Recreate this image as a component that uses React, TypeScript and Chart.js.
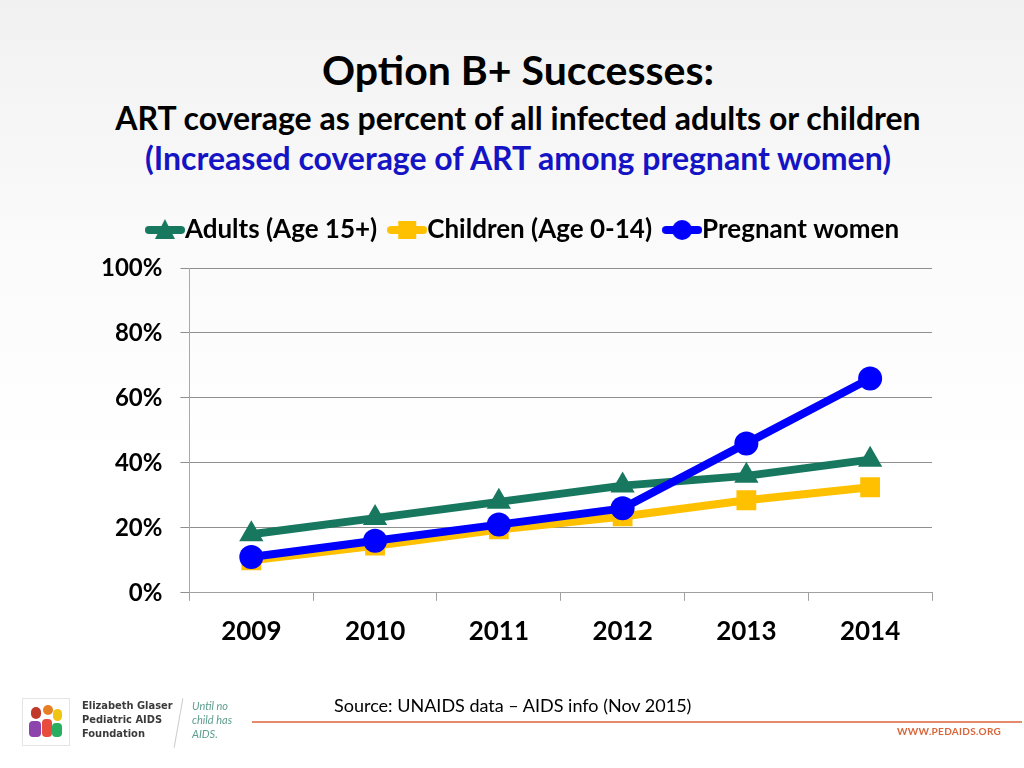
import React, { useEffect, useRef } from "react";
import { Chart, registerables } from "chart.js";

Chart.register(...registerables);

const years = ["2009", "2010", "2011", "2012", "2013", "2014"];
const adults = [18, 23, 28, 33, 36, 41];
const children = [10, 14.5, 19.5, 23.5, 28.5, 32.5];
const pregnant = [11, 16, 21, 26, 46, 66];
const yTicks = [0, 20, 40, 60, 80, 100];

const GREEN = "#17785f";
const YELLOW = "#ffc000";
const BLUE = "#0000ff";
const FONT = "Lato, 'Open Sans', sans-serif";

function legendIcon(color: string, shape: string): HTMLCanvasElement {
  const c = document.createElement("canvas");
  c.width = 40;
  c.height = 26;
  const ctx = c.getContext("2d")!;
  ctx.strokeStyle = color;
  ctx.lineWidth = 8;
  ctx.lineCap = "round";
  ctx.beginPath();
  ctx.moveTo(4, 13);
  ctx.lineTo(36, 13);
  ctx.stroke();
  ctx.fillStyle = color;
  ctx.beginPath();
  if (shape === "triangle") {
    ctx.moveTo(20, 2);
    ctx.lineTo(30, 22);
    ctx.lineTo(10, 22);
    ctx.closePath();
  } else if (shape === "rect") {
    ctx.rect(11, 4, 18, 18);
  } else {
    ctx.arc(20, 13, 10, 0, Math.PI * 2);
  }
  ctx.fill();
  return c;
}

const legendShift = {
  id: "legendShift",
  afterLayout(chart: any) {
    const l = chart.legend;
    if (!l) return;
    const dx = 21;
    const dy = -15;
    l.left += dx;
    l.right += dx;
    l.top += dy;
    l.bottom += dy;
  },
};

export default function App() {
  const ref = useRef<HTMLCanvasElement>(null);
  useEffect(() => {
    if (!ref.current) return;
    const icons = [
      legendIcon(GREEN, "triangle"),
      legendIcon(YELLOW, "rect"),
      legendIcon(BLUE, "circle"),
    ];
    const chart = new Chart(ref.current, {
      type: "line",
      data: {
        labels: years,
        datasets: [
          {
            label: "Adults (Age 15+)",
            data: adults,
            borderColor: GREEN,
            backgroundColor: GREEN,
            borderWidth: 8,
            pointStyle: "triangle",
            pointRadius: 14,
            pointBorderWidth: 0,
            order: 3,
          },
          {
            label: "Children (Age 0-14)",
            data: children,
            borderColor: YELLOW,
            backgroundColor: YELLOW,
            borderWidth: 8,
            pointStyle: "rect",
            pointRadius: 14,
            pointBorderWidth: 0,
            order: 2,
          },
          {
            label: "Pregnant women",
            data: pregnant,
            borderColor: BLUE,
            backgroundColor: BLUE,
            borderWidth: 8,
            pointStyle: "circle",
            pointRadius: 12,
            pointBorderWidth: 0,
            order: 1,
          },
        ],
      },
      plugins: [legendShift],
      options: {
        responsive: false,
        animation: false,
        layout: { padding: { top: 209, left: 83, right: 92, bottom: 106 } },
        plugins: {
          tooltip: { enabled: false },
          legend: {
            position: "top",
            labels: {
              usePointStyle: true,
              pointStyleWidth: 14,
              padding: 23,
              color: "#000",
              font: { family: FONT, size: 26, weight: "bold" },
              generateLabels: (chart: any) =>
                chart.data.datasets.map((ds: any, i: number) => ({
                  text: ds.label,
                  pointStyle: icons[i],
                  fillStyle: ds.borderColor,
                  strokeStyle: ds.borderColor,
                  lineWidth: 0,
                  hidden: false,
                  datasetIndex: i,
                  fontColor: "#000",
                })),
            },
          },
        },
        scales: {
          x: {
            offset: true,
            border: { color: "#a0a0a0", width: 1 },
            grid: {
              offset: true,
              drawOnChartArea: false,
              drawTicks: true,
              tickLength: 8,
              color: "#a0a0a0",
            },
            ticks: {
              color: "#000",
              padding: 15,
              font: { family: FONT, size: 26, weight: "bold" },
            },
          },
          y: {
            min: 0,
            max: 100,
            border: { color: "#a8a8a8", width: 1 },
            grid: { color: "#8f8f8f", tickLength: 9, lineWidth: 1 },
            afterBuildTicks: (axis: any) => {
              axis.ticks = yTicks.map((v) => ({ value: v }));
            },
            ticks: {
              color: "#000",
              padding: 18,
              font: { family: FONT, size: 24, weight: "bold" },
              callback: (v: any) => v + "%",
            },
          },
        },
      },
    });
    return () => chart.destroy();
  }, []);

  const center: React.CSSProperties = {
    position: "absolute",
    left: 6,
    width: 1024,
    textAlign: "center",
    fontFamily: FONT,
    fontWeight: "bold",
    whiteSpace: "nowrap",
  };

  return (
    <div
      style={{
        position: "fixed",
        left: 0,
        top: 0,
        width: 1024,
        height: 768,
        overflow: "hidden",
        background: "linear-gradient(#f1f1f1 0%, #fafafa 30%, #ffffff 60%)",
      }}
    >
      <div style={{ ...center, top: 47, fontSize: 41, lineHeight: "46px", color: "#000" }}>
        Option B+ Successes:
      </div>
      <div style={{ ...center, top: 100, fontSize: 32, lineHeight: "36px", color: "#000" }}>
        ART coverage as percent of all infected adults or children
      </div>
      <div style={{ ...center, top: 140, fontSize: 32, lineHeight: "36px", color: "#1414c4" }}>
        (Increased coverage of ART among pregnant women)
      </div>
      <canvas
        ref={ref}
        width={1024}
        height={768}
        style={{ position: "absolute", left: 0, top: 0, width: 1024, height: 768 }}
      />
      {/* footer */}
      <div
        style={{
          position: "absolute",
          left: 22,
          top: 698,
          width: 46,
          height: 46,
          border: "1px solid #e4e4e4",
          background: "#fff",
        }}
      >
        <div style={{ position: "absolute", left: 8, top: 8, width: 10, height: 12, borderRadius: 6, background: "#c0392b" }} />
        <div style={{ position: "absolute", left: 20, top: 6, width: 10, height: 10, borderRadius: 5, background: "#e67e22" }} />
        <div style={{ position: "absolute", left: 30, top: 10, width: 9, height: 12, borderRadius: 5, background: "#f1c40f" }} />
        <div style={{ position: "absolute", left: 6, top: 22, width: 12, height: 16, borderRadius: 4, background: "#8e44ad" }} />
        <div style={{ position: "absolute", left: 19, top: 20, width: 10, height: 18, borderRadius: 4, background: "#e74c3c" }} />
        <div style={{ position: "absolute", left: 29, top: 24, width: 10, height: 14, borderRadius: 4, background: "#27ae60" }} />
      </div>
      <div
        style={{
          position: "absolute",
          left: 82,
          top: 699,
          fontFamily: "'DejaVu Sans Condensed', 'Liberation Sans Narrow', sans-serif",
          fontWeight: "bold",
          fontSize: 11,
          lineHeight: "14px",
          color: "#3a3a3a",
        }}
      >
        Elizabeth Glaser
        <br />
        Pediatric AIDS
        <br />
        Foundation
      </div>
      <div style={{ position: "absolute", left: 178, top: 698, width: 1, height: 50, background: "#ccc", transform: "rotate(10deg)" }} />
      <div
        style={{
          position: "absolute",
          left: 192,
          top: 699,
          fontFamily: FONT,
          fontStyle: "italic",
          fontSize: 11,
          lineHeight: "14px",
          color: "#5f9e8f",
        }}
      >
        Until no
        <br />
        child has
        <br />
        AIDS.
      </div>
      <div
        style={{
          position: "absolute",
          left: 334,
          top: 694,
          fontFamily: FONT,
          fontSize: 18,
          lineHeight: "22px",
          color: "#000",
        }}
      >
        Source: UNAIDS data – AIDS info (Nov 2015)
      </div>
      <div style={{ position: "absolute", left: 252, top: 721, width: 770, height: 2, background: "#e58a6a" }} />
      <div
        style={{
          position: "absolute",
          left: 897,
          top: 725,
          fontFamily: FONT,
          fontWeight: "bold",
          fontSize: 10,
          lineHeight: "12px",
          color: "#d9663a",
          letterSpacing: 0.3,
        }}
      >
        WWW.PEDAIDS.ORG
      </div>
    </div>
  );
}
